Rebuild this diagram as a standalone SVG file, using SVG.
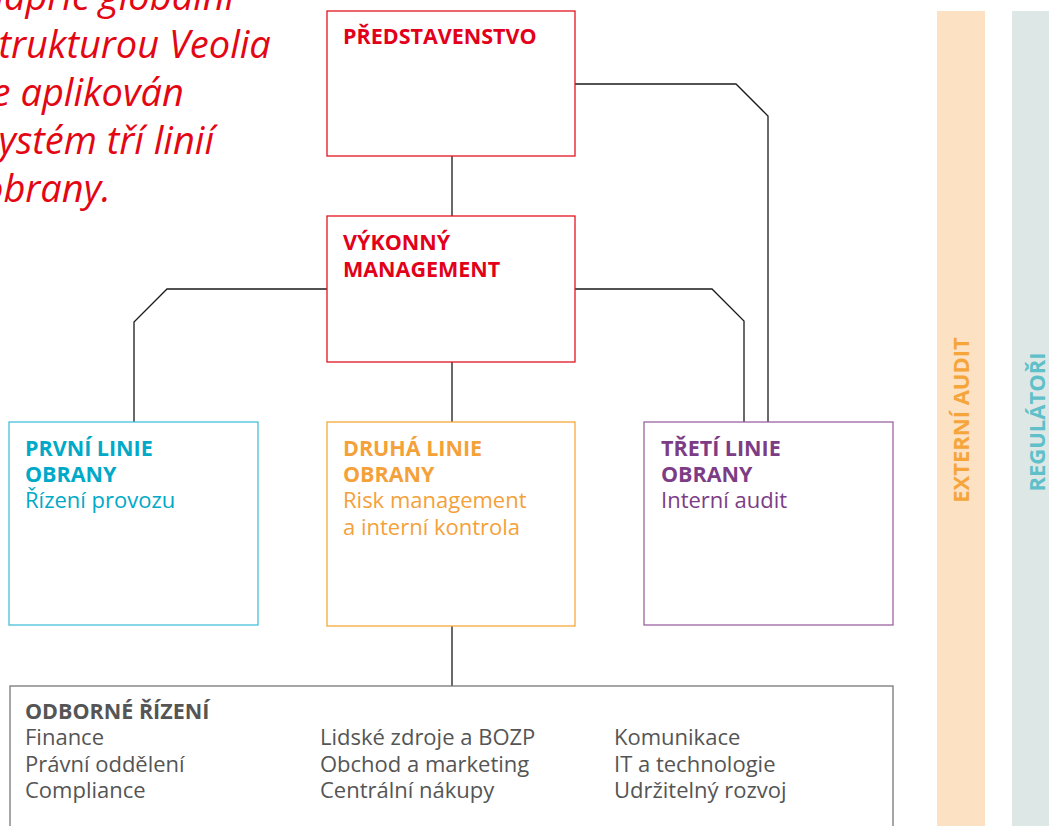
<svg xmlns="http://www.w3.org/2000/svg" width="1049" height="826" viewBox="0 0 1049 826">
  <style>
    .box { fill: #ffffff; stroke-width: 1.3; }
    .hd { font-family: "Open Sans", "Noto Sans", sans-serif; font-weight: 700; font-size: 21.5px; }
    .tx { font-family: "Open Sans", "Noto Sans", sans-serif; font-weight: 400; font-size: 22px; }
    .conn { fill: none; stroke: #1a1a1a; stroke-width: 1.3; }
    .intro { font-family: "Open Sans", "Noto Sans", sans-serif; font-style: italic; font-size: 38px; fill: #e30613; }
    .side { font-family: "Open Sans", "Noto Sans", sans-serif; font-weight: 700; font-size: 22px; }
  </style>
  <rect width="1049" height="826" fill="#ffffff"/>

  <g id="intro">
    <text class="intro" x="-18" y="10">napříč globální</text>
    <text class="intro" x="-18" y="58">strukturou Veolia</text>
    <text class="intro" x="-18" y="106">je aplikován</text>
    <text class="intro" x="-18" y="154">systém tří linií</text>
    <text class="intro" x="-18" y="202">obrany.</text>
  </g>

  <g id="externi-audit">
    <rect x="937" y="11" width="48" height="815" fill="#fce1c3"/>
    <text class="side" fill="#f5a53a" transform="translate(969,420) rotate(-90)" text-anchor="middle">EXTERNÍ AUDIT</text>
  </g>
  <g id="regulatori">
    <rect x="1012" y="11" width="48" height="815" fill="#dde8e6"/>
    <text class="side" fill="#5fc0c9" transform="translate(1045,422) rotate(-90)" text-anchor="middle">REGULÁTOŘI</text>
  </g>

  <g id="connectors">
    <path class="conn" d="M452,156 V216"/>
    <path class="conn" d="M575,84 H736 L768,116 V422"/>
    <path class="conn" d="M575,289 H712 L744,321 V422"/>
    <path class="conn" d="M327,289 H167 L134,322 V422"/>
    <path class="conn" d="M452,362 V422"/>
    <path class="conn" d="M452,626 V686"/>
  </g>

  <g id="predstavenstvo">
    <rect class="box" x="327" y="11" width="248" height="145" stroke="#e3141f"/>
    <text class="hd" x="343" y="44" fill="#e2001a">PŘEDSTAVENSTVO</text>
  </g>

  <g id="vykonny-management">
    <rect class="box" x="327" y="216" width="248" height="146" stroke="#e3141f"/>
    <text class="hd" x="343" y="250" fill="#e2001a">VÝKONNÝ</text>
    <text class="hd" x="343" y="277" fill="#e2001a">MANAGEMENT</text>
  </g>

  <g id="prvni-linie">
    <rect class="box" x="9" y="422" width="249" height="203" stroke="#45c1da"/>
    <text class="hd" x="25" y="456" fill="#00a9c8">PRVNÍ LINIE</text>
    <text class="hd" x="25" y="482" fill="#00a9c8">OBRANY</text>
    <text class="tx" x="25" y="508" fill="#00a9c8">Řízení provozu</text>
  </g>

  <g id="druha-linie">
    <rect class="box" x="327" y="422" width="248" height="204" stroke="#f6a93b"/>
    <text class="hd" x="343" y="456" fill="#f4a13a">DRUHÁ LINIE</text>
    <text class="hd" x="343" y="482" fill="#f4a13a">OBRANY</text>
    <text class="tx" x="343" y="508" fill="#f4a13a">Risk management</text>
    <text class="tx" x="343" y="535" fill="#f4a13a">a interní kontrola</text>
  </g>

  <g id="treti-linie">
    <rect class="box" x="644" y="422" width="249" height="203" stroke="#9c64a4"/>
    <text class="hd" x="661" y="456" fill="#7d3c86">TŘETÍ LINIE</text>
    <text class="hd" x="661" y="482" fill="#7d3c86">OBRANY</text>
    <text class="tx" x="661" y="508" fill="#7d3c86">Interní audit</text>
  </g>

  <g id="odborne-rizeni">
    <rect class="box" x="10" y="686" width="883" height="200" stroke="#777777"/>
    <text class="hd" x="25" y="719" fill="#555555">ODBORNÉ ŘÍZENÍ</text>
    <text class="tx" x="25" y="745" fill="#555555">Finance</text>
    <text class="tx" x="25" y="772" fill="#555555">Právní oddělení</text>
    <text class="tx" x="25" y="798" fill="#555555">Compliance</text>
    <text class="tx" x="320" y="745" fill="#555555">Lidské zdroje a BOZP</text>
    <text class="tx" x="320" y="772" fill="#555555">Obchod a marketing</text>
    <text class="tx" x="320" y="798" fill="#555555">Centrální nákupy</text>
    <text class="tx" x="614" y="745" fill="#555555">Komunikace</text>
    <text class="tx" x="614" y="772" fill="#555555">IT a technologie</text>
    <text class="tx" x="614" y="798" fill="#555555">Udržitelný rozvoj</text>
  </g>
</svg>
